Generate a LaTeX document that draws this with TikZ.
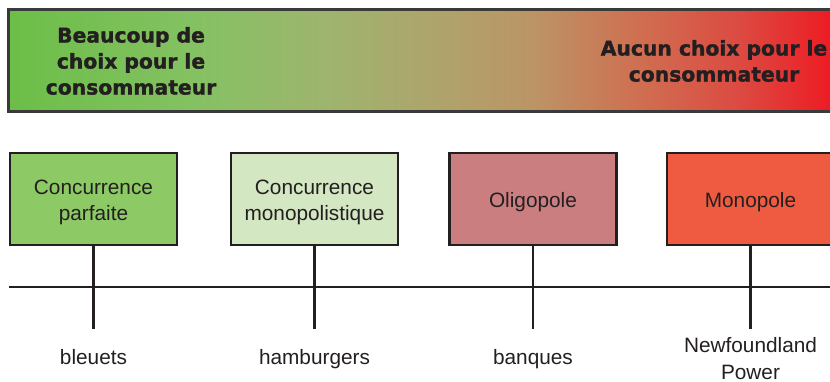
\documentclass[tikz,border=0pt]{standalone}
\usepackage{fontspec}
\setmainfont{Liberation Sans}
\newfontfamily\headfont{DejaVu Sans}[BoldFeatures={FakeBold=1.5}]
\usetikzlibrary{positioning}
\definecolor{ink}{HTML}{231F20}
\definecolor{barLine}{HTML}{3A3A3A}
\definecolor{cbA}{HTML}{6CBE48}
\definecolor{cbB}{HTML}{85C163}
\definecolor{cbC}{HTML}{9FB46E}
\definecolor{cbD}{HTML}{ADA56C}
\definecolor{cbE}{HTML}{BB9566}
\definecolor{cbF}{HTML}{D06E51}
\definecolor{cbG}{HTML}{DC4A41}
\definecolor{cbH}{HTML}{ED1C24}
\definecolor{fillPerfect}{HTML}{8DC965}
\definecolor{fillMonoComp}{HTML}{D3E7C2}
\definecolor{fillOligo}{HTML}{CB7E80}
\definecolor{fillMono}{HTML}{EF5B40}
\pgfdeclarehorizontalshading{choicebar}{100bp}{color(0bp)=(cbA); color(25bp)=(cbA);
    color(36.5bp)=(cbB); color(44.2bp)=(cbC); color(50.2bp)=(cbD); color(56.2bp)=(cbE);
    color(62.8bp)=(cbF); color(68.7bp)=(cbG); color(74.1bp)=(cbH); color(100bp)=(cbH)}
\newcommand{\boxlift}{\rule{0pt}{21pt}}

\begin{document}
\begin{tikzpicture}[x=1pt, y=-1pt,
    font=\fontsize{20.8}{26.5}\selectfont,
    market/.style={rectangle, draw=ink, line width=2.6pt, text=ink,
        minimum width=167pt, minimum height=92pt, align=center, inner sep=0pt},
    headtxt/.style={font=\headfont\bfseries\fontsize{20.3}{26}\selectfont,
        text=ink, align=center, inner sep=0pt},
    tick/.style={draw=ink, line width=2.4pt},
    example/.style={text=ink, align=center, inner sep=0pt}
]
\clip (0,0) rectangle (830,382);

% choice bar
\shadedraw[shading=choicebar, draw=barLine, line width=3pt] (8,10) rectangle (845,112);
\node[headtxt] (many) at (131,61) {Beaucoup de\\choix pour le\\consommateur};
\node[headtxt] (none) at (714,61) {Aucun choix pour le\\consommateur};

% market structures
\node[market, fill=fillPerfect]  (perfect)  at (93.5,199) {\boxlift Concurrence\\parfaite};
\node[market, fill=fillMonoComp] (monocomp) at (314.5,199) {\boxlift Concurrence\\monopolistique};
\node[market, fill=fillOligo]    (oligo)    at (533,199) {\boxlift Oligopole};
\node[market, fill=fillMono]     (mono)     at (750.5,199) {\boxlift Monopole};

\coordinate (axisL) at (9,287);
\coordinate (axisR) at (840,287);
\draw[tick] (axisL) -- (axisR);

\draw[tick] (perfect.south)  -- ++(0,83) coordinate (e1);
\draw[tick] (monocomp.south) -- ++(0,83) coordinate (e2);
\draw[tick] (oligo.south)    -- ++(0,83) coordinate (e3);
\draw[tick] (mono.south)     -- ++(0,83) coordinate (e4);

% examples
\node[example, below=20pt of e1] (exPerfect)  {bleuets};
\node[example, below=20pt of e2] (exMonoComp) {hamburgers};
\node[example, below=20pt of e3] (exOligo)    {banques};
\node[example, below=8pt of e4]  (exMono)     {Newfoundland\\Power};
\end{tikzpicture}
\end{document}
